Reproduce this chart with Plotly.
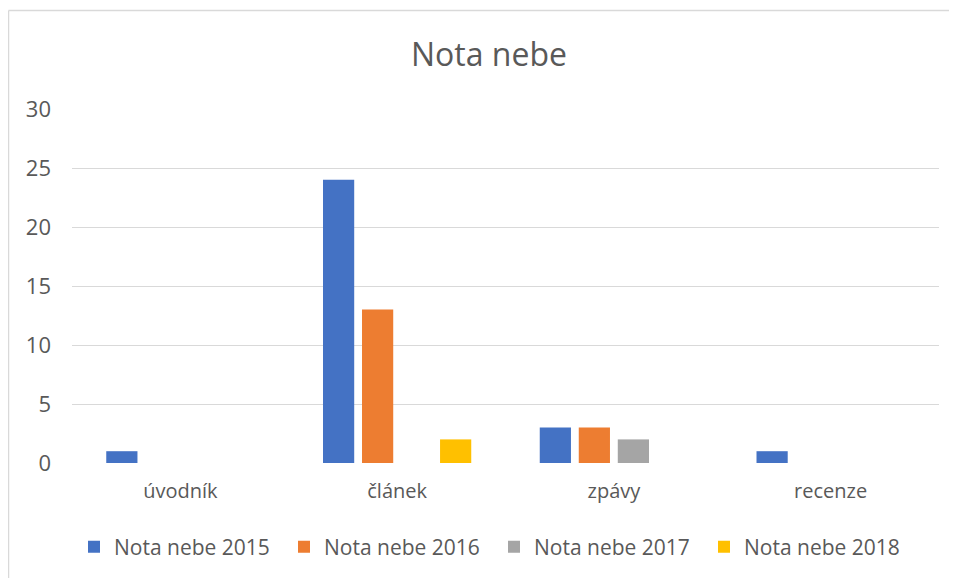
import plotly.graph_objects as go

categories = ["úvodník", "článek", "zpávy", "recenze"]
series_names = ["Nota nebe 2015", "Nota nebe 2016", "Nota nebe 2017", "Nota nebe 2018"]
v2015 = [1, 24, 3, 1]
v2016 = [0, 13, 3, 0]
v2017 = [0, 0, 2, 0]
v2018 = [0, 2, 0, 0]
colors = ["#4472C4", "#ED7D31", "#A5A5A5", "#FFC000"]
y_ticks = [0, 5, 10, 15, 20, 25, 30]

# page body has an 8px margin; work in figure coordinates (= screen - 8)
OFF = 8
W, H = 957 - OFF, 578 - OFF
L = 72 - OFF
R = W - (939 - OFF)
T = 109 - OFF
B = H - (463 - OFF)
pw, ph = W - L - R, H - T - B

fig = go.Figure()
for name, vals, col in zip(series_names, [v2015, v2016, v2017, v2018], colors):
    fig.add_trace(go.Bar(x=categories, y=vals, name=name, marker=dict(color=col, line=dict(width=0))))

txt = "#595959"
font = "Open Sans, DejaVu Sans, sans-serif"

def px_x(sx):
    return (sx - OFF - L) / pw

def px_y(sy):
    return (T + ph - (sy - OFF)) / ph

fig.update_layout(
    width=W, height=H,
    margin=dict(l=L, r=R, t=T, b=B, autoexpand=False),
    paper_bgcolor="white", plot_bgcolor="white",
    barmode="group", bargap=0.28, bargroupgap=0.2,
    title=dict(text="Nota nebe", x=px_x(489), xref="paper", xanchor="center",
               y=1 - (55 - OFF) / H, yanchor="middle", yref="container",
               font=dict(family=font, size=32, color=txt)),
    font=dict(family=font, color=txt),
    xaxis=dict(showgrid=False, showline=False, zeroline=False, ticks="",
               tickfont=dict(size=20, color=txt), ticklabelstandoff=14),
    yaxis=dict(range=[0, 30], tickvals=y_ticks, showgrid=True, gridcolor="#D9D9D9", gridwidth=1.3,
               zeroline=False, showline=False, ticks="",
               tickfont=dict(size=22, color=txt), ticklabelstandoff=20),
    legend=dict(orientation="h", x=px_x(494), xanchor="center", y=px_y(547),
                yanchor="middle", font=dict(size=21, color=txt), traceorder="normal",
                itemwidth=30, entrywidth=165, entrywidthmode="pixels"),
    shapes=[
        dict(type="line", xref="paper", yref="paper", x0=px_x(8.5), x1=px_x(8.5),
             y0=px_y(10.5), y1=px_y(700), line=dict(color="#D9D9D9", width=1.5)),
        dict(type="line", xref="paper", yref="paper", x0=px_x(8.5), x1=px_x(1100),
             y0=px_y(10.5), y1=px_y(10.5), line=dict(color="#D9D9D9", width=1.5)),
    ],
)

fig.write_html("out.html", config={"displayModeBar": False})
